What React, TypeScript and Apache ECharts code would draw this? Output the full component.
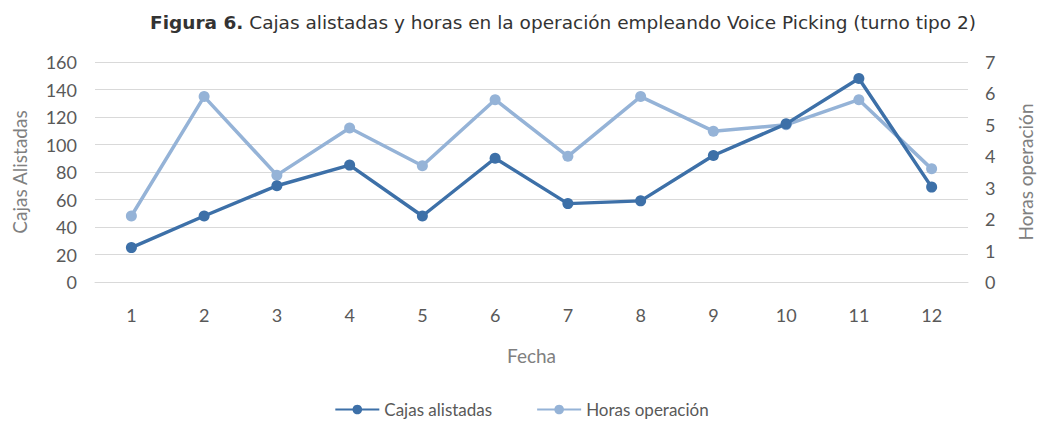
import React, { useEffect, useRef } from "react";
import * as echarts from "echarts";

const categories = ["1", "2", "3", "4", "5", "6", "7", "8", "9", "10", "11", "12"];
const cajasAlistadas = [25, 48, 70, 85, 48, 90, 57, 59, 92, 115, 148, 69];
const horasOperacion = [2.1, 5.9, 3.4, 4.9, 3.7, 5.8, 4.0, 5.9, 4.8, 5.0, 5.8, 3.6];

const DARK = "#3d70a8";
const LIGHT = "#95b3d7";
const LABEL = "#595959";
const FONT = "Lato, 'Open Sans', sans-serif";

export default function App() {
  const ref = useRef<HTMLDivElement>(null);
  useEffect(() => {
    if (!ref.current) return;
    const chart = echarts.init(ref.current, null, { renderer: "svg" });
    chart.setOption({
      animation: false,
      backgroundColor: "#ffffff",
      title: {
        text: "{b|Figura 6.} Cajas alistadas y horas en la operación empleando Voice Picking (turno tipo 2)",
        left: 145,
        top: 8,
        textStyle: {
          fontFamily: "'DejaVu Sans', sans-serif",
          fontSize: 18.5,
          fontWeight: "normal",
          color: "#333333",
          rich: {
            b: {
              fontFamily: "'DejaVu Sans', sans-serif",
              fontSize: 18.5,
              fontWeight: "bold",
              color: "#333333",
            },
          },
        },
      },
      legend: {
        bottom: 5,
        left: "center",
        itemWidth: 44,
        itemHeight: 12,
        itemGap: 44,
        textStyle: { fontFamily: FONT, fontSize: 17, color: LABEL },
        data: ["Cajas alistadas", "Horas operación"],
      },
      grid: { left: 95, right: 70, top: 62, bottom: 146 },
      xAxis: {
        type: "category",
        data: categories,
        name: "Fecha",
        nameLocation: "middle",
        nameGap: 64,
        nameTextStyle: { fontFamily: FONT, fontSize: 19, color: "#808080" },
        axisLine: { show: true, lineStyle: { color: "#d9d9d9", width: 1 } },
        axisTick: { show: false },
        axisLabel: { fontFamily: FONT, fontSize: 18, color: LABEL, margin: 24 },
      },
      yAxis: [
        {
          type: "value",
          min: 0,
          max: 160,
          interval: 20,
          name: "Cajas Alistadas",
          nameLocation: "middle",
          nameGap: 66,
          nameRotate: 90,
          nameTextStyle: { fontFamily: FONT, fontSize: 19, color: "#808080" },
          axisLine: { show: false },
          axisTick: { show: false },
          axisLabel: { fontFamily: FONT, fontSize: 18, color: LABEL, margin: 18 },
          splitLine: { lineStyle: { color: "#d9d9d9", width: 1 } },
        },
        {
          type: "value",
          min: 0,
          max: 7,
          interval: 1,
          name: "Horas operación",
          nameLocation: "middle",
          nameGap: 48,
          nameRotate: 90,
          nameTextStyle: { fontFamily: FONT, fontSize: 19, color: "#808080" },
          axisLine: { show: false },
          axisTick: { show: false },
          axisLabel: { fontFamily: FONT, fontSize: 18, color: LABEL, margin: 17 },
          splitLine: { show: false },
        },
      ],
      series: [
        {
          name: "Cajas alistadas",
          type: "line",
          yAxisIndex: 0,
          data: cajasAlistadas,
          symbol: "circle",
          symbolSize: 11,
          z: 3,
          lineStyle: { color: DARK, width: 3.5 },
          itemStyle: { color: DARK },
        },
        {
          name: "Horas operación",
          type: "line",
          yAxisIndex: 1,
          data: horasOperacion,
          symbol: "circle",
          symbolSize: 11,
          z: 2,
          lineStyle: { color: LIGHT, width: 3.5 },
          itemStyle: { color: LIGHT },
        },
      ],
    });
    return () => chart.dispose();
  }, []);
  return <div ref={ref} style={{ width: 1043, height: 428, position: "absolute", left: 0, top: 0 }} />;
}
